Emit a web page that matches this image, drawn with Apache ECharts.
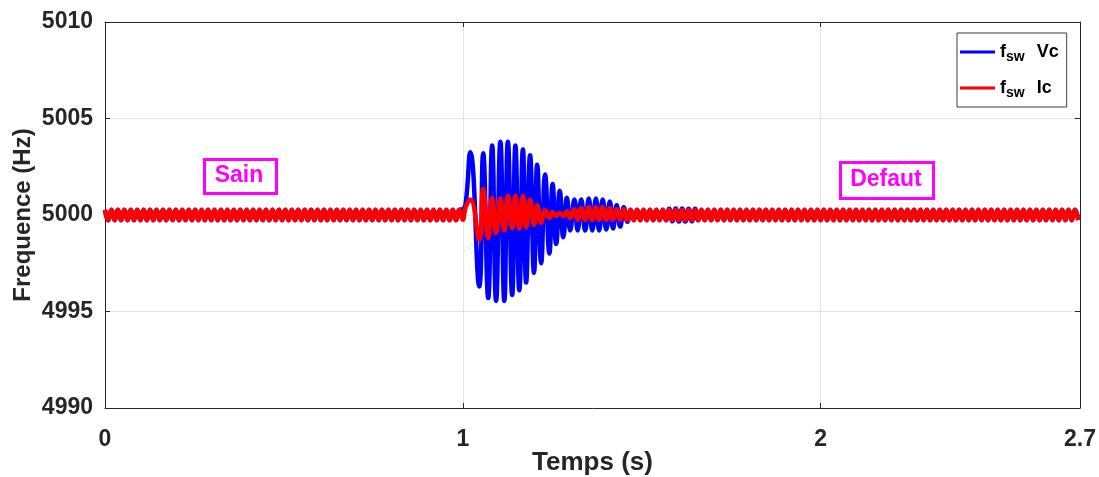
<!DOCTYPE html>
<html>
<head>
<meta charset="utf-8">
<script src="https://cdn.jsdelivr.net/npm/echarts@6/dist/echarts.min.js"></script>
<style>
html,body{margin:0;padding:0;background:#fff;}
#chart{width:1099px;height:477px;}
</style>
</head>
<body>
<div id="chart"></div>
<script>
// ---- Data ----
const xTickLabels = ['0', '1', '2', '2.7'];
const yTickLabels = ['4990', '4995', '5000', '5005', '5010'];

// Healthy part (before the fault) : peaks / troughs of f_sw (both Vc and Ic overlap)
const timePre = [
  0.000,0.009,0.018,0.027,0.036,0.045,0.054,0.063,0.072,0.081,
  0.090,0.099,0.108,0.117,0.126,0.135,0.144,0.153,0.162,0.171,
  0.180,0.189,0.198,0.207,0.216,0.225,0.234,0.243,0.252,0.261,
  0.270,0.279,0.288,0.297,0.306,0.315,0.324,0.333,0.342,0.351,
  0.360,0.369,0.378,0.387,0.396,0.405,0.414,0.423,0.432,0.441,
  0.450,0.459,0.468,0.477,0.486,0.495,0.504,0.513,0.522,0.531,
  0.540,0.549,0.558,0.567,0.576,0.585,0.594,0.603,0.612,0.621,
  0.630,0.639,0.648,0.657,0.666,0.675,0.684,0.693,0.702,0.711,
  0.720,0.729,0.738,0.747,0.756,0.765,0.774,0.783,0.792,0.801,
  0.810,0.819,0.828,0.837,0.846,0.855,0.864,0.873,0.882,0.891,
  0.900,0.909,0.918,0.927,0.936,0.945,0.954,0.963,0.972,0.981,
  0.990
];
const vcPre = [
  5000.27,4999.73,5000.27,4999.73,5000.27,4999.73,5000.27,4999.73,5000.27,4999.73,
  5000.27,4999.73,5000.27,4999.73,5000.27,4999.73,5000.27,4999.73,5000.27,4999.73,
  5000.27,4999.73,5000.27,4999.73,5000.27,4999.73,5000.27,4999.73,5000.27,4999.73,
  5000.27,4999.73,5000.27,4999.73,5000.27,4999.73,5000.27,4999.73,5000.27,4999.73,
  5000.27,4999.73,5000.27,4999.73,5000.27,4999.73,5000.27,4999.73,5000.27,4999.73,
  5000.27,4999.73,5000.27,4999.73,5000.27,4999.73,5000.27,4999.73,5000.27,4999.73,
  5000.27,4999.73,5000.27,4999.73,5000.27,4999.73,5000.27,4999.73,5000.27,4999.73,
  5000.27,4999.73,5000.27,4999.73,5000.27,4999.73,5000.27,4999.73,5000.27,4999.73,
  5000.27,4999.73,5000.27,4999.73,5000.27,4999.73,5000.27,4999.73,5000.27,4999.73,
  5000.27,4999.73,5000.27,4999.73,5000.27,4999.73,5000.27,4999.73,5000.27,4999.73,
  5000.27,4999.73,5000.27,4999.73,5000.27,4999.73,5000.27,4999.73,5000.27,4999.73,
  5000.27
];
const icPre = vcPre.slice();

// Transient after the fault (t ~ 1 s)
const timeTrans = [
  1.000,1.008,1.021,1.046,1.057,1.071,1.082,1.093,1.105,1.116,
  1.126,1.138,1.147,1.158,1.168,1.177,1.188,1.199,1.208,1.219,
  1.230,1.242,1.251,1.261,1.271,1.281,1.291,1.300,1.312,1.321,
  1.331,1.342,1.352,1.362,1.372,1.381,1.391,1.401,1.411,1.420,
  1.430,1.440,1.450,1.460
];
const vcTrans = [
  5000.30,5000.60,5003.25,4996.30,5003.20,4995.70,5003.60,4995.55,5003.80,4995.55,
  5003.80,4995.85,5003.60,4996.10,5003.40,4996.50,5003.10,4997.00,5002.60,4997.50,
  5002.10,4998.00,5001.60,4998.50,5001.25,4998.85,5000.90,4999.20,5000.80,4999.20,
  5000.80,4999.20,5000.85,4999.20,5000.85,4999.20,5000.80,4999.25,5000.70,4999.30,
  5000.50,4999.40,5000.40,4999.65
];
const icTrans = [
  4999.75,5000.40,5000.80,4998.70,5001.35,4998.80,5000.90,4999.05,5000.85,4999.20,
  5001.00,4999.30,5001.00,4999.30,5001.00,4999.35,5000.80,4999.50,5000.50,4999.60,
  5000.25,4999.85,5000.15,4999.95,5000.10,4999.95,5000.20,4999.85,5000.30,4999.75,
  5000.35,4999.75,5000.40,4999.75,5000.40,4999.75,5000.40,4999.75,5000.35,4999.75,
  5000.30,4999.75,5000.30,4999.73
];

// After the transient (fault state, steady again)
const timePost = [
  1.469,1.478,1.487,1.496,1.505,1.514,1.523,1.532,1.541,1.550,
  1.559,1.568,1.577,1.586,1.595,1.604,1.613,1.622,1.631,1.640,
  1.649,1.658,1.667,1.676,1.685,1.694,1.703,1.712,1.721,1.730,
  1.739,1.748,1.757,1.766,1.775,1.784,1.793,1.802,1.811,1.820,
  1.829,1.838,1.847,1.856,1.865,1.874,1.883,1.892,1.901,1.910,
  1.919,1.928,1.937,1.946,1.955,1.964,1.973,1.982,1.991,2.000,
  2.009,2.018,2.027,2.036,2.045,2.054,2.063,2.072,2.081,2.090,
  2.099,2.108,2.117,2.126,2.135,2.144,2.153,2.162,2.171,2.180,
  2.189,2.198,2.207,2.216,2.225,2.234,2.243,2.252,2.261,2.270,
  2.279,2.288,2.297,2.306,2.315,2.324,2.333,2.342,2.351,2.360,
  2.369,2.378,2.387,2.396,2.405,2.414,2.423,2.432,2.441,2.450,
  2.459,2.468,2.477,2.486,2.495,2.504,2.513,2.522,2.531,2.540,
  2.549,2.558,2.567,2.576,2.585,2.594,2.603,2.612,2.621,2.630,
  2.639,2.648,2.657,2.666,2.675,2.684,2.693,2.702,2.711,2.720
];
const vcPost = [
  5000.27,4999.73,5000.27,4999.73,5000.27,4999.73,5000.27,4999.73,5000.27,4999.73,
  5000.27,4999.73,5000.33,4999.67,5000.34,4999.66,5000.34,4999.66,5000.33,4999.67,
  5000.32,4999.73,5000.27,4999.73,5000.27,4999.73,5000.27,4999.73,5000.27,4999.73,
  5000.27,4999.73,5000.27,4999.73,5000.27,4999.73,5000.27,4999.73,5000.27,4999.73,
  5000.27,4999.73,5000.27,4999.73,5000.27,4999.73,5000.27,4999.73,5000.27,4999.73,
  5000.27,4999.73,5000.27,4999.73,5000.27,4999.73,5000.27,4999.73,5000.27,4999.73,
  5000.27,4999.73,5000.27,4999.73,5000.27,4999.73,5000.27,4999.73,5000.27,4999.73,
  5000.27,4999.73,5000.27,4999.73,5000.27,4999.73,5000.27,4999.73,5000.27,4999.73,
  5000.27,4999.73,5000.27,4999.73,5000.27,4999.73,5000.27,4999.73,5000.27,4999.73,
  5000.27,4999.73,5000.27,4999.73,5000.27,4999.73,5000.27,4999.73,5000.27,4999.73,
  5000.27,4999.73,5000.27,4999.73,5000.27,4999.73,5000.27,4999.73,5000.27,4999.73,
  5000.27,4999.73,5000.27,4999.73,5000.27,4999.73,5000.27,4999.73,5000.27,4999.73,
  5000.27,4999.73,5000.27,4999.73,5000.27,4999.73,5000.27,4999.73,5000.27,4999.73,
  5000.27,4999.73,5000.27,4999.73,5000.27,4999.73,5000.27,4999.73,5000.27,4999.73
];
const icPost = [
  5000.27,4999.73,5000.27,4999.73,5000.27,4999.73,5000.27,4999.73,5000.27,4999.73,
  5000.27,4999.73,5000.27,4999.73,5000.27,4999.73,5000.27,4999.73,5000.27,4999.73,
  5000.27,4999.73,5000.27,4999.73,5000.27,4999.73,5000.27,4999.73,5000.27,4999.73,
  5000.27,4999.73,5000.27,4999.73,5000.27,4999.73,5000.27,4999.73,5000.27,4999.73,
  5000.27,4999.73,5000.27,4999.73,5000.27,4999.73,5000.27,4999.73,5000.27,4999.73,
  5000.27,4999.73,5000.27,4999.73,5000.27,4999.73,5000.27,4999.73,5000.27,4999.73,
  5000.27,4999.73,5000.27,4999.73,5000.27,4999.73,5000.27,4999.73,5000.27,4999.73,
  5000.27,4999.73,5000.27,4999.73,5000.27,4999.73,5000.27,4999.73,5000.27,4999.73,
  5000.27,4999.73,5000.27,4999.73,5000.27,4999.73,5000.27,4999.73,5000.27,4999.73,
  5000.27,4999.73,5000.27,4999.73,5000.27,4999.73,5000.27,4999.73,5000.27,4999.73,
  5000.27,4999.73,5000.27,4999.73,5000.27,4999.73,5000.27,4999.73,5000.27,4999.73,
  5000.27,4999.73,5000.27,4999.73,5000.27,4999.73,5000.27,4999.73,5000.27,4999.73,
  5000.27,4999.73,5000.27,4999.73,5000.27,4999.73,5000.27,4999.73,5000.27,4999.73,
  5000.27,4999.73,5000.27,4999.73,5000.27,4999.73,5000.27,4999.73,5000.27,4999.73
];

const annotations = ['Sain', 'Defaut'];

// ---- Build series data ----
const allTime = timePre.concat(timeTrans, timePost);
const vcAll = vcPre.concat(vcTrans, vcPost);
const icAll = icPre.concat(icTrans, icPost);
const vcData = allTime.map((t, i) => [t, vcAll[i]]);
const icData = allTime.map((t, i) => [t, icAll[i]]);

const FONT = '"Liberation Sans", Arial, sans-serif';
const AX = '#262626';

const chart = echarts.init(document.getElementById('chart'), null, {renderer: 'canvas'});

const legendFmt = function (name) {
  return name === 'Vc' ? '{f|f}{s|sw}{g| }{v|Vc}' : '{f|f}{s|sw}{g| }{v|Ic}';
};

chart.setOption({
  animation: false,
  backgroundColor: '#ffffff',
  grid: {left: 105, right: 19, top: 22, bottom: 69, show: false, containLabel: false, outerBoundsMode: 'none'},
  legend: {
    data: [{name: 'Vc', icon: 'rect'}, {name: 'Ic', icon: 'rect'}],
    orient: 'vertical',
    left: 957, top: 33,
    padding: [7, 8, 7, 3],
    itemWidth: 35, itemHeight: 3, itemGap: 12,
    backgroundColor: '#ffffff',
    borderColor: '#3c3c3c', borderWidth: 1,
    formatter: legendFmt,
    selectedMode: false,
    textStyle: {
      color: '#000', fontFamily: FONT, lineHeight: 24,
      rich: {
        f: {fontSize: 18, fontWeight: 'bold', fontFamily: FONT, color: '#000', verticalAlign: 'middle'},
        s: {fontSize: 14, fontWeight: 'bold', fontFamily: FONT, color: '#000', verticalAlign: 'bottom'},
        g: {fontSize: 18, width: 12},
        v: {fontSize: 18, fontWeight: 'bold', fontFamily: FONT, color: '#000', verticalAlign: 'middle'}
      }
    }
  },
  xAxis: [{
    type: 'value', min: 0, max: 2.725, interval: 1,
    name: 'Temps (s)', nameLocation: 'middle', nameGap: 42, nameMoveOverlap: false,
    nameTextStyle: {fontSize: 26, fontWeight: 'bold', fontFamily: FONT, color: AX},
    axisLine: {show: true, onZero: false, lineStyle: {color: AX, width: 1}},
    axisTick: {show: true, inside: true, length: 5, lineStyle: {color: AX}},
    axisLabel: {
      margin: 20, fontSize: 23, fontWeight: 'bold', fontFamily: FONT, color: AX,
      showMaxLabel: true, showMinLabel: true,
      formatter: v => String(Math.round(v * 10) / 10)
    },
    splitLine: {show: true, lineStyle: {color: '#e3e3e3', width: 1}}
  }, {
    type: 'value', min: 0, max: 2.725, interval: 1, position: 'top',
    axisLine: {show: true, onZero: false, lineStyle: {color: AX, width: 1}},
    axisTick: {show: true, inside: true, length: 5, lineStyle: {color: AX}},
    axisLabel: {show: false}, splitLine: {show: false}
  }],
  yAxis: [{
    type: 'value', min: 4990, max: 5010, interval: 5,
    name: 'Frequence (Hz)', nameLocation: 'middle', nameGap: 70, nameMoveOverlap: false,
    nameTextStyle: {fontSize: 24, fontWeight: 'bold', fontFamily: FONT, color: AX},
    axisLine: {show: true, onZero: false, lineStyle: {color: AX, width: 1}},
    axisTick: {show: true, inside: true, length: 5, lineStyle: {color: AX}},
    axisLabel: {margin: 12, fontSize: 23, fontWeight: 'bold', fontFamily: FONT, color: AX,
      formatter: v => yTickLabels[Math.round((v - 4990) / 5)]},
    splitLine: {show: true, lineStyle: {color: '#e3e3e3', width: 1}}
  }, {
    type: 'value', min: 4990, max: 5010, interval: 5, position: 'right',
    axisLine: {show: true, onZero: false, lineStyle: {color: AX, width: 1}},
    axisTick: {show: true, inside: true, length: 5, lineStyle: {color: AX}},
    axisLabel: {show: false}, splitLine: {show: false}
  }],
  series: [{
    name: 'Vc', type: 'line', data: vcData, smooth: true,
    showSymbol: false, symbol: 'none', clip: true,
    lineStyle: {color: '#0000ff', width: 4.5}, itemStyle: {color: '#0000ff'}, z: 2
  }, {
    name: 'Ic', type: 'line', data: icData, smooth: true,
    showSymbol: false, symbol: 'none', clip: true,
    lineStyle: {color: '#ff0000', width: 4.5}, itemStyle: {color: '#ff0000'}, z: 3
  }],
  graphic: [
    {type: 'rect', left: 202, top: 157, shape: {width: 72, height: 34},
     style: {fill: 'none', stroke: '#ff00ff', lineWidth: 3}, z: 10},
    {type: 'text', x: 239, y: 176, z: 11,
     style: {text: annotations[0], font: 'bold 23px ' + FONT, fill: '#ff00ff', align: 'center', verticalAlign: 'middle'}},
    {type: 'rect', left: 838, top: 160, shape: {width: 93, height: 36},
     style: {fill: 'none', stroke: '#ff00ff', lineWidth: 3}, z: 10},
    {type: 'text', x: 886, y: 180, z: 11,
     style: {text: annotations[1], font: 'bold 23px ' + FONT, fill: '#ff00ff', align: 'center', verticalAlign: 'middle'}}
  ]
});
</script>
</body>
</html>
